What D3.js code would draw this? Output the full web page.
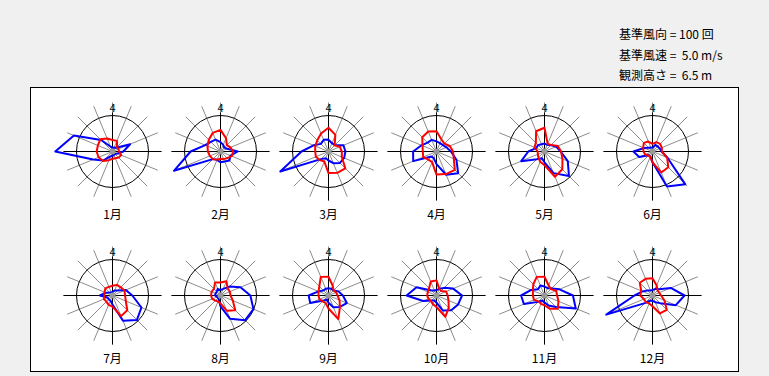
<!DOCTYPE html>
<html>
<head>
<meta charset="utf-8">
<script src="https://cdn.jsdelivr.net/npm/d3@7"></script>
<style>
	body { margin: 0; background: #f0f0f0; }
	svg { display: block; }
	text { font-family: "Noto Sans CJK JP", "DejaVu Sans", sans-serif; }
</style>
</head>
<body>
<div id="chart"></div>
<script>
const months = ["1月", "2月", "3月", "4月", "5月", "6月", "7月", "8月", "9月", "10月", "11月", "12月"];
const directions = ["N", "NNE", "NE", "ENE", "E", "ESE", "SE", "SSE", "S", "SSW", "SW", "WSW", "W", "WNW", "NW", "NNW"];
const infoLines = ["基準風向 = 100 回", "基準風速 =  5.0 m/s", "観測高さ =  6.5 m"];
const refCount = 100;
const refSpeed = 5.0;

// 風向出現回数 (N から時計回り)
const dirFreq = [
	[10, 12, 15, 53, 30, 15, 10, 10, 12, 15, 35, 58, 159, 116, 45, 15],
	[26, 20, 15, 20, 48, 30, 35, 30, 30, 25, 30, 140, 83, 46, 38, 36],
	[33, 25, 25, 45, 47, 47, 45, 35, 25, 20, 30, 145, 75, 45, 30, 35],
	[28, 25, 25, 30, 40, 60, 85, 70, 35, 20, 20, 70, 65, 45, 35, 35],
	[22, 20, 25, 35, 45, 70, 96, 65, 30, 20, 30, 70, 45, 25, 25, 22],
	[10, 20, 20, 22, 25, 45, 129, 105, 30, 15, 15, 40, 53, 25, 15, 12],
	[10, 15, 20, 40, 55, 87, 96, 76, 25, 15, 15, 15, 35, 20, 12, 10],
	[15, 20, 35, 60, 83, 99, 97, 70, 30, 12, 10, 10, 15, 15, 15, 20],
	[20, 20, 20, 30, 40, 55, 45, 35, 20, 12, 20, 55, 55, 30, 20, 20],
	[15, 20, 30, 50, 71, 65, 58, 45, 20, 15, 20, 40, 83, 60, 20, 15],
	[25, 22, 28, 45, 79, 94, 45, 30, 20, 15, 25, 62, 65, 40, 25, 30],
	[15, 20, 25, 55, 89, 70, 30, 20, 15, 15, 30, 139, 50, 30, 20, 15]
];

// 平均風速 m/s
const windSpeed = [
	[1.6, 1.6, 0.9, 0.9, 0.9, 1.3, 1.2, 1.0, 1.0, 1.3, 1.85, 2.1, 2.2, 2.2, 2.4, 1.95],
	[3.0, 2.0, 1.25, 1.5, 1.75, 1.7, 1.3, 1.15, 1.0, 1.25, 1.5, 1.6, 1.75, 1.95, 2.3, 2.8],
	[3.3, 2.5, 1.2, 1.7, 1.85, 2.0, 3.3, 3.2, 3.0, 1.5, 1.7, 1.9, 1.85, 2.0, 2.2, 2.7],
	[2.8, 1.8, 1.55, 2.0, 2.3, 2.6, 3.6, 3.4, 3.2, 1.6, 1.6, 2.0, 1.9, 2.1, 2.8, 3.0],
	[3.3, 1.15, 1.3, 2.0, 2.3, 2.7, 3.5, 3.8, 1.9, 1.55, 1.2, 1.0, 0.95, 1.5, 1.7, 3.05],
	[1.05, 1.4, 1.5, 1.4, 1.3, 2.2, 3.1, 3.15, 1.5, 0.8, 0.8, 1.1, 1.25, 1.4, 1.7, 1.5],
	[1.35, 1.6, 1.6, 1.8, 1.75, 2.0, 2.9, 3.1, 1.55, 1.4, 1.2, 1.3, 1.15, 1.2, 1.4, 1.3],
	[1.8, 2.15, 1.4, 1.4, 1.4, 1.85, 2.9, 2.3, 1.1, 0.9, 1.0, 1.25, 1.3, 1.35, 1.3, 1.95],
	[2.6, 1.5, 1.0, 1.15, 1.25, 1.65, 2.25, 3.55, 1.8, 1.1, 1.15, 1.35, 1.4, 1.5, 1.8, 2.8],
	[2.1, 1.0, 0.9, 1.45, 1.55, 1.8, 2.4, 3.2, 1.6, 1.3, 1.1, 1.2, 1.3, 1.3, 1.45, 2.1],
	[2.6, 1.5, 1.25, 1.75, 1.75, 2.1, 2.6, 2.0, 1.35, 1.25, 1.15, 1.6, 1.6, 1.75, 2.2, 2.8],
	[2.4, 1.5, 1.0, 1.0, 1.2, 1.8, 2.8, 2.7, 1.5, 1.2, 1.3, 1.3, 1.7, 1.7, 2.5, 2.5]
];

const width = 769, height = 376;
const radius = 36;

let svg = d3.select("#chart").append("svg")
	.attr("width", width)
	.attr("height", height);

svg.append("rect")
	.attr("x", 30.5).attr("y", 87.5)
	.attr("width", 708).attr("height", 284)
	.attr("fill", "#fff")
	.attr("stroke", "#000");

svg.selectAll(".info")
	.data(infoLines)
	.enter().append("text")
	.attr("class", "info")
	.attr("x", 619)
	.attr("y", (d, i) => 39 + i * 20.5)
	.attr("font-size", 12)
	.style("white-space", "pre")
	.text(d => d);

let scale = {
	col: d3.scaleLinear().domain([0, 5]).range([112, 652]),
	row: d3.scaleLinear().domain([0, 1]).range([151, 295]),
	angle: d3.scaleLinear().domain([0, directions.length]).range([0, 2 * Math.PI]),
	freq: d3.scaleLinear().domain([0, refCount]).range([0, radius]),
	speed: d3.scaleLinear().domain([0, refSpeed]).range([0, radius])
};

let freqLine = d3.lineRadial()
	.angle((d, i) => scale.angle(i))
	.radius(d => scale.freq(d))
	.curve(d3.curveLinearClosed);

let speedLine = d3.lineRadial()
	.angle((d, i) => scale.angle(i))
	.radius(d => scale.speed(d))
	.curve(d3.curveLinearClosed);

let roses = svg.selectAll(".rose")
	.data(months)
	.enter().append("g")
	.attr("class", "rose")
	.attr("transform", (d, i) => `translate(${scale.col(i % 6) + 0.5}, ${scale.row(Math.floor(i / 6)) + 0.5})`);

roses.selectAll(".spoke")
	.data(directions)
	.enter().append("line")
	.attr("class", "spoke")
	.attr("x2", (d, i) => 49 * Math.sin(scale.angle(i)))
	.attr("y2", (d, i) => -49 * Math.cos(scale.angle(i)))
	.attr("stroke", "#8c8c8c")
	.attr("stroke-width", 1);

roses.append("circle")
	.attr("r", radius)
	.attr("fill", "none")
	.attr("stroke", "#000");

roses.append("line")
	.attr("x1", -49).attr("x2", 49)
	.attr("stroke", "#000");

roses.append("line")
	.attr("y1", -39).attr("y2", 49)
	.attr("stroke", "#000");

roses.append("text")
	.attr("y", -40)
	.attr("text-anchor", "middle")
	.attr("font-size", 11)
	.text("4");

roses.append("path")
	.attr("d", (d, i) => freqLine(dirFreq[i]))
	.attr("fill", "none")
	.attr("stroke", "#0000ff")
	.attr("stroke-width", 2)
	.attr("stroke-linejoin", "round");

roses.append("path")
	.attr("d", (d, i) => speedLine(windSpeed[i]))
	.attr("fill", "none")
	.attr("stroke", "#ff0000")
	.attr("stroke-width", 2)
	.attr("stroke-linejoin", "round");

roses.append("circle")
	.attr("r", 3)
	.attr("fill", "#999");

roses.append("text")
	.attr("y", 67)
	.attr("text-anchor", "middle")
	.attr("font-size", 12)
	.text(d => d);
</script>
</body>
</html>
